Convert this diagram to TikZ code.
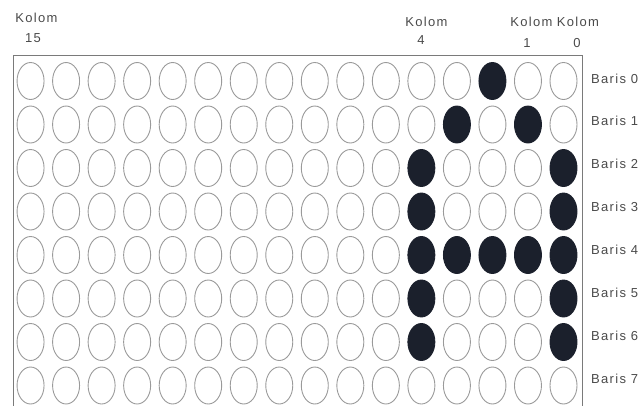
\documentclass[tikz,border=0pt]{standalone}
\usepackage{fontspec}
\setmainfont{Liberation Sans}
\newfontfamily\labfont[LetterSpace=10]{Liberation Sans}
\usetikzlibrary{shapes.geometric}
\definecolor{dotline}{HTML}{9A9A9A}
\definecolor{dotfill}{HTML}{1B202C}
\definecolor{framecol}{HTML}{7A7A7A}
\definecolor{txt}{HTML}{4A4A4A}
\begin{document}
\begin{tikzpicture}[x=1pt,y=-1pt,
  dot/.style={ellipse, draw=dotline, line width=0.9pt, minimum width=27pt, minimum height=37pt, inner sep=0pt},
  dotoff/.style={},
  doton/.style={fill=dotfill, draw=dotfill},
  lab/.style={font=\labfont\fontsize{13}{13}\selectfont, text=txt, inner sep=0pt, anchor=base}]
\useasboundingbox (0,0) rectangle (644,405);
% frame (bottom edge lies below the picture)
\coordinate (fbl) at (13,406);
\coordinate (ftl) at (13,55);
\coordinate (ftr) at (582,55);
\coordinate (fbr) at (582,406);
\draw[framecol, line width=1pt] (fbl) -- (ftl) -- (ftr) -- (fbr);
% lit dots (column-row)
\foreach \k in {2-0,3-1,1-1,4-2,0-2,4-3,0-3,4-4,3-4,2-4,1-4,0-4,4-5,0-5,4-6,0-6}
  {\expandafter\gdef\csname dot@\k\endcsname{}}
\foreach \r in {0,...,7}{
  \foreach \c in {0,...,15}{
    \ifcsname dot@\c-\r\endcsname \def\st{doton}\else\def\st{dotoff}\fi
    \node[dot,\st] (d\c-\r) at ({563.5-35.53*\c},{81+43.5*\r}) {};
  }
  \node[lab, anchor=base west] (b\r) at (591,{83+42.86*\r}) {Baris \r};
}
% column labels
\node[lab] (k15) at (36.5,22) {Kolom};
\node[lab] (n15) at (33,42) {15};
\node[lab] (k4) at (426.5,26) {Kolom};
\node[lab] (n4) at (421,44) {4};
\node[lab] (k1) at (531.5,26) {Kolom};
\node[lab] (n1) at (527,47) {1};
\node[lab] (k0) at (578,26) {Kolom};
\node[lab] (n0) at (577,47) {0};
\end{tikzpicture}
\end{document}
